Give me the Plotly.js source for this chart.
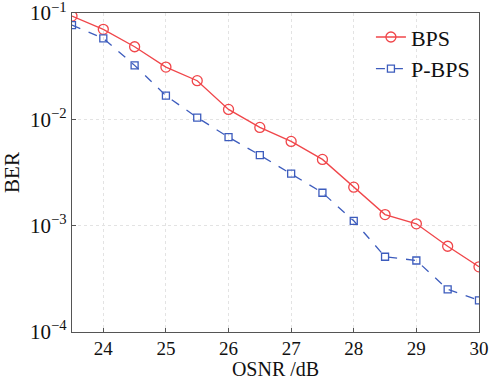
<!DOCTYPE html>
<html><head><meta charset="utf-8">
<script src="https://cdn.plot.ly/plotly-3.0.1.min.js"></script>
<style>html,body{margin:0;padding:0;background:#fff}#c{width:494px;height:380px}</style>
</head><body><div id="c"></div>
<script>
const osnr = [23.5,24,24.5,25,25.5,26,26.5,27,27.5,28,28.5,29,29.5,30];
const berBPS = [0.0937,0.0703,0.0482,0.031,0.0231,0.0124,0.0084,0.0062,0.0042,0.0023,0.00127,0.00104,0.00064,0.00041];
const berPBPS = [0.077,0.0578,0.0322,0.0167,0.0104,0.0068,0.00461,0.00308,0.00204,0.00111,0.00051,0.00047,0.000252,0.000198];
const xTicks = [24,25,26,27,28,29,30];
const yTicks = [1e-4,1e-3,1e-2,1e-1];
const yTickText = ['10<sup>−4</sup>','10<sup>−3</sup>','10<sup>−2</sup>','10<sup>−1</sup>'];

const fam = 'Times New Roman, Liberation Serif, serif';
const f = s => ({family:fam,size:s,color:'#111'});
const traces = [
 {x:osnr,y:berBPS,name:'BPS',mode:'lines+markers',
  line:{color:'#f0464a',width:1.3},
  marker:{symbol:'circle-open',size:10,color:'#f0464a',line:{width:1.3}}},
 {x:osnr,y:berPBPS,name:'P-BPS',mode:'lines+markers',
  line:{color:'#3d5cbd',width:1.3,dash:'dash'},
  marker:{symbol:'square-open',size:7,color:'#3d5cbd',line:{width:1.3}}}
];
const layout = {
 width:494,height:380,
 margin:{l:72,r:15,t:13,b:48},
 paper_bgcolor:'#fff',plot_bgcolor:'#fff',
 font:f(20),
 showlegend:true,
 legend:{x:0.99,y:0.99,xanchor:'right',yanchor:'top',bgcolor:'rgba(0,0,0,0)',
   font:f(22),tracegroupgap:0},
 xaxis:{range:[23.5,30.0005],tickvals:xTicks,ticktext:xTicks.map(String),
   showline:true,mirror:true,linecolor:'#555',linewidth:1.2,
   ticks:'inside',ticklen:4,tickcolor:'#555',ticklabeloverflow:'allow',
   ticklabelstandoff:-1,
   showgrid:true,gridcolor:'#e3e3e3',griddash:'dot',gridwidth:1,zeroline:false,
   tickfont:f(19),
   title:{text:'OSNR /dB',font:f(20),standoff:0}},
 yaxis:{type:'log',range:[-4.0005,-0.9995],tickvals:yTicks,ticktext:yTickText,
   showline:true,mirror:true,linecolor:'#555',linewidth:1.2,
   ticks:'inside',ticklen:4,tickcolor:'#555',ticklabeloverflow:'allow',
   showgrid:true,gridcolor:'#e3e3e3',griddash:'dot',zeroline:false,
   tickfont:f(21),
   title:{text:'BER',font:f(21),standoff:4}}
};
Plotly.newPlot('c',traces,layout,{staticPlot:true,displayModeBar:false});
</script></body></html>
